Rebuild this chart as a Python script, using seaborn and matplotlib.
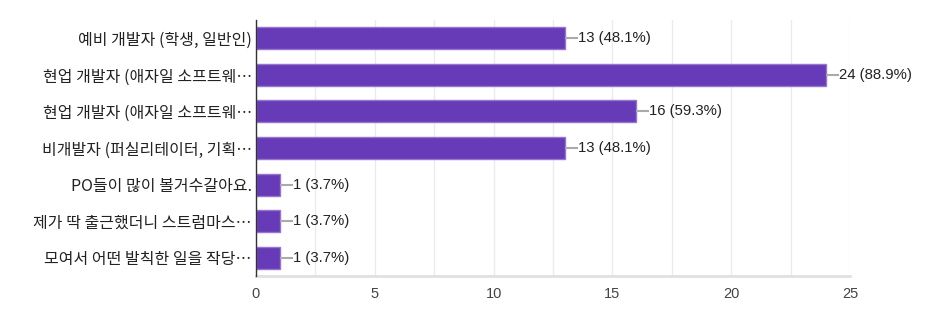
import matplotlib
matplotlib.use("Agg")
import matplotlib.pyplot as plt
import seaborn as sns
import pandas as pd
from matplotlib.ticker import MultipleLocator

categories = [
    "예비 개발자 (학생, 일반인)",
    "현업 개발자 (애자일 소프트웨…",
    "현업 개발자 (애자일 소프트웨…",
    "비개발자 (퍼실리테이터, 기획…",
    "PO들이 많이 볼거수갈아요.",
    "제가 딱 출근했더니 스트럼마스…",
    "모여서 어떤 발칙한 일을 작당…",
]
counts = [13, 24, 16, 13, 1, 1, 1]
percents = ["48.1%", "88.9%", "59.3%", "48.1%", "3.7%", "3.7%", "3.7%"]
x_ticks = [0, 5, 10, 15, 20, 25]

sns.set_theme(style="white")
plt.rcParams["font.family"] = ["Noto Sans CJK KR", "DejaVu Sans"]

df = pd.DataFrame({"cat": [f"{i}" for i in range(len(categories))], "count": counts})

fig = plt.figure(figsize=(9.52, 3.28), dpi=100)
ax = fig.add_axes([256 / 952, 1 - 276 / 328, (850 - 256) / 952, (276 - 20) / 328])

sns.barplot(data=df, x="count", y="cat", orient="h", color="#673AB7",
            saturation=1, width=0.6, edgecolor="#9575CD", linewidth=1, ax=ax, zorder=3)

ax.set_xlim(0, 25)
ax.set_ylim(len(categories) - 0.5, -0.5)
ax.xaxis.set_major_locator(MultipleLocator(5))
ax.xaxis.set_minor_locator(MultipleLocator(2.5))
ax.set_xticks(x_ticks)
ax.grid(axis="x", which="both", color="#EBEBEB", linewidth=1, zorder=0)
ax.set_axisbelow(True)

ax.set_yticks(range(len(categories)))
ax.set_yticklabels(categories, fontsize=11.5, color="#222222")
ax.tick_params(axis="x", labelsize=10.5, colors="#444444", length=0, pad=8)
for t in ax.get_xticklabels():
    t.set_family(["Liberation Sans", "DejaVu Sans"])
ax.tick_params(axis="y", length=0, pad=3)
ax.set_xlabel("")
ax.set_ylabel("")

for s in ["top", "right"]:
    ax.spines[s].set_visible(False)
ax.spines["bottom"].set_color("#E0E0E0")
ax.spines["bottom"].set_linewidth(2)
ax.spines["left"].set_color("#333333")
ax.spines["left"].set_linewidth(1)
ax.spines["left"].set_zorder(5)

for i, (c, p) in enumerate(zip(counts, percents)):
    ax.plot([c, c + 0.55], [i, i], color="#AAAAAA", linewidth=1.5, zorder=4, solid_capstyle="butt")
    ax.text(c + 0.55, i, f"{c} ({p})", va="center", ha="left", fontsize=10.7,
            color="#222222", family=["Liberation Sans", "DejaVu Sans"])

fig.savefig("out.png", dpi=100)
